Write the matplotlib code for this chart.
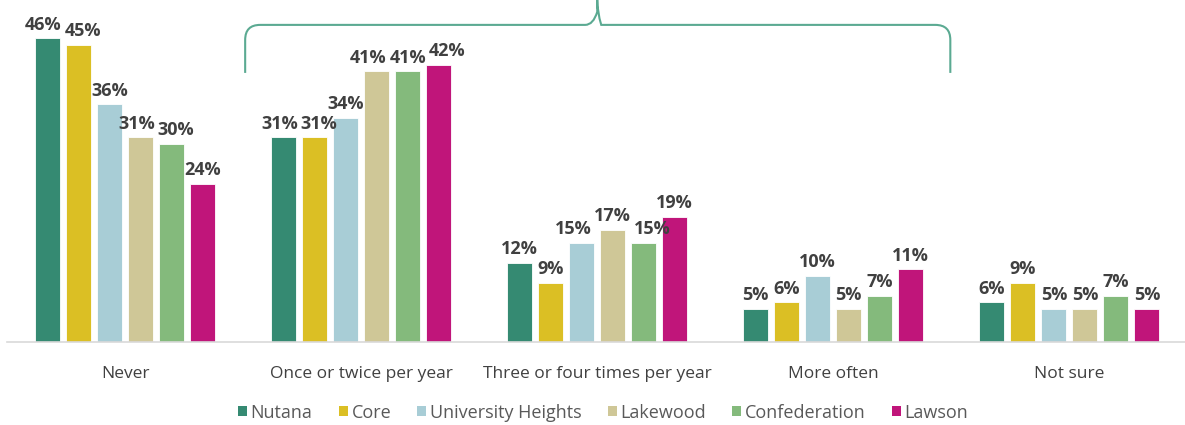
import numpy as np
import matplotlib.pyplot as plt
from matplotlib.path import Path
from matplotlib.patches import PathPatch, Patch

categories = ["Never", "Once or twice per year", "Three or four times per year",
              "More often", "Not sure"]
schools = ["Nutana", "Core", "University Heights", "Lakewood", "Confederation", "Lawson"]
values = {
    "Nutana":             [46, 31, 12, 5, 6],
    "Core":               [45, 31, 9, 6, 9],
    "University Heights": [36, 34, 15, 10, 5],
    "Lakewood":           [31, 41, 17, 5, 5],
    "Confederation":      [30, 41, 15, 7, 7],
    "Lawson":             [24, 42, 19, 11, 5],
}
colors = ["#358A72", "#DBBF24", "#A8CDD6", "#CFC797", "#84BA7C", "#C0157A"]

plt.rcParams['font.family'] = ['Open Sans', 'DejaVu Sans']

fig = plt.figure(figsize=(11.85, 4.25), dpi=100)
ax = fig.add_axes([0.006, 83 / 425, 0.996, 342 / 425])

x = np.arange(len(categories))
stride = 31 / 236
width = 25 / 236
labels = [[] for _ in categories]
for i, (s, c) in enumerate(zip(schools, colors)):
    xs = x + (i - 2.5) * stride
    ax.bar(xs, values[s], width=width, color=c, edgecolor="white", linewidth=0.6)
    for g, (xi, v) in enumerate(zip(xs, values[s])):
        t = ax.text(xi, v + 0.7, f"{v}%", ha="center", va="bottom", fontsize=13,
                    fontweight="bold", color="#404040")
        labels[g].append(t)

ax.set_xlim(-0.5, 4.5)
ax.set_ylim(0, 51.8)
ax.set_yticks([])
ax.set_xticks(x)
ax.set_xticklabels(categories, fontsize=12.5, color="#404040")
ax.tick_params(axis="x", length=0, pad=17)
for side in ["top", "right", "left"]:
    ax.spines[side].set_visible(False)
ax.spines["bottom"].set_color("#D9D9D9")
ax.spines["bottom"].set_linewidth(1.2)

# nudge data labels sideways when neighbours collide (like the office chart does)
fig.canvas.draw()
r = fig.canvas.get_renderer()
px_per_unit = ax.get_window_extent().width / 5
for grp in labels:
    for _ in range(10):
        moved = False
        for a, b in zip(grp[:-1], grp[1:]):
            ea, eb = a.get_window_extent(r), b.get_window_extent(r)
            if ea.y1 - 2 < eb.y0 or eb.y1 - 2 < ea.y0:
                continue
            ov = ea.x1 + 3 - eb.x0
            if ov > 0:
                ax_, ay = a.get_position()
                bx, by = b.get_position()
                a.set_position((ax_ - ov / 2 / px_per_unit, ay))
                b.set_position((bx + ov / 2 / px_per_unit, by))
                moved = True
        if not moved:
            break

# bracket over the middle three groups (pixel positions -> data)
def px(xp, yp):
    return ((xp - 125) / 236, (342 - yp) / 6.6)

pts = [(245, 73), (245, 40), (245, 25), (260, 25),
       (585, 25), (593, 25), (597, 12), (597, 0),
       (597, 12), (601, 25), (609, 25),
       (935, 25), (950, 25), (950, 40), (950, 73)]
codes = [Path.MOVETO, Path.LINETO, Path.CURVE3, Path.CURVE3,
         Path.LINETO, Path.CURVE3, Path.CURVE3, Path.LINETO,
         Path.CURVE3, Path.CURVE3, Path.CURVE3,
         Path.LINETO, Path.CURVE3, Path.CURVE3, Path.LINETO]
verts = [px(*p) for p in pts]
ax.add_patch(PathPatch(Path(verts, codes), facecolor="none", edgecolor="#5BAA92",
                       linewidth=1.5, clip_on=False))

handles = [Patch(facecolor=c, edgecolor="none") for c in colors]
fig.legend(handles, schools, loc="lower center", bbox_to_anchor=(0.509, -0.03), ncol=6,
           frameon=False, fontsize=13, handlelength=0.5, handleheight=0.5,
           handletextpad=0.2, columnspacing=1.45, labelcolor="#595959")

fig.savefig("out.png", dpi=100)
